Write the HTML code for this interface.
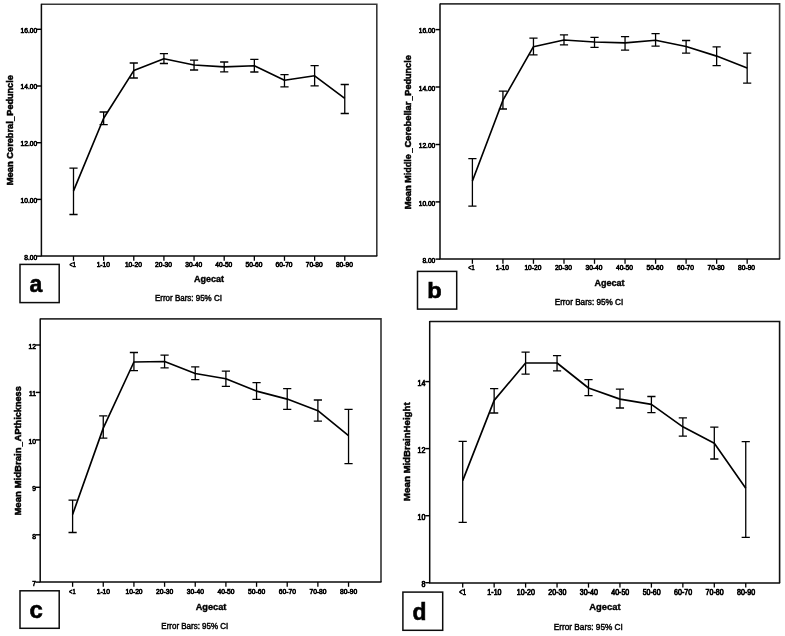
<!DOCTYPE html>
<html><head><meta charset="utf-8"><title>Figure</title>
<style>
html,body{margin:0;padding:0;background:#fff;}
body{width:785px;height:636px;overflow:hidden;}
svg{display:block;will-change:transform;font-family:"Liberation Sans",sans-serif;}
.tk{fill:#000;stroke:#000;stroke-width:0.7px;}
.b{font-weight:bold;fill:#000;stroke:#000;stroke-width:0.4px;}
.yl{font-weight:bold;fill:#000;stroke:#000;stroke-width:0.5px;}
.lt{font-weight:bold;fill:#000;stroke:#000;stroke-width:0.6px;}
.fn{fill:#000;stroke:#000;stroke-width:0.45px;}
</style></head><body>
<svg width="785" height="636" viewBox="0 0 785 636">
<rect x="0" y="0" width="785" height="636" fill="#ffffff"/>

<g>
<path d="M41.4 4.2H376.8V256.1" fill="none" stroke="#383838" stroke-width="1.6"/>
<path d="M41.4 3.7V256.1H377.3" fill="none" stroke="#0a0a0a" stroke-width="1.5"/>
<path d="M36.9 29.3H41.4" stroke="#000" stroke-width="1.45"/>
<text class="tk" transform="translate(37.1 32.71) scale(0.85 1)" font-size="7.8" text-anchor="end">16.00</text>
<path d="M36.9 86H41.4" stroke="#000" stroke-width="1.45"/>
<text class="tk" transform="translate(37.1 89.41) scale(0.85 1)" font-size="7.8" text-anchor="end">14.00</text>
<path d="M36.9 142.7H41.4" stroke="#000" stroke-width="1.45"/>
<text class="tk" transform="translate(37.1 146.11) scale(0.85 1)" font-size="7.8" text-anchor="end">12.00</text>
<path d="M36.9 199.4H41.4" stroke="#000" stroke-width="1.45"/>
<text class="tk" transform="translate(37.1 202.81) scale(0.85 1)" font-size="7.8" text-anchor="end">10.00</text>
<path d="M36.9 256.1H41.4" stroke="#000" stroke-width="1.45"/>
<text class="tk" transform="translate(37.1 259.51) scale(0.85 1)" font-size="7.8" text-anchor="end">8.00</text>
<path d="M73.5 256.1V260.8" stroke="#000" stroke-width="1.3"/>
<text class="tk" transform="translate(72.7 266.71) scale(0.714 1)" font-size="7.8" text-anchor="middle">&lt;1</text>
<path d="M103.64 256.1V260.8" stroke="#000" stroke-width="1.3"/>
<text class="tk" transform="translate(103.24 266.71) scale(0.85 1)" font-size="7.8" text-anchor="middle">1-10</text>
<path d="M133.78 256.1V260.8" stroke="#000" stroke-width="1.3"/>
<text class="tk" transform="translate(133.38 266.71) scale(0.85 1)" font-size="7.8" text-anchor="middle">10-20</text>
<path d="M163.92 256.1V260.8" stroke="#000" stroke-width="1.3"/>
<text class="tk" transform="translate(163.52 266.71) scale(0.85 1)" font-size="7.8" text-anchor="middle">20-30</text>
<path d="M194.06 256.1V260.8" stroke="#000" stroke-width="1.3"/>
<text class="tk" transform="translate(193.66 266.71) scale(0.85 1)" font-size="7.8" text-anchor="middle">30-40</text>
<path d="M224.2 256.1V260.8" stroke="#000" stroke-width="1.3"/>
<text class="tk" transform="translate(223.8 266.71) scale(0.85 1)" font-size="7.8" text-anchor="middle">40-50</text>
<path d="M254.34 256.1V260.8" stroke="#000" stroke-width="1.3"/>
<text class="tk" transform="translate(253.94 266.71) scale(0.85 1)" font-size="7.8" text-anchor="middle">50-60</text>
<path d="M284.48 256.1V260.8" stroke="#000" stroke-width="1.3"/>
<text class="tk" transform="translate(284.08 266.71) scale(0.85 1)" font-size="7.8" text-anchor="middle">60-70</text>
<path d="M314.62 256.1V260.8" stroke="#000" stroke-width="1.3"/>
<text class="tk" transform="translate(314.22 266.71) scale(0.85 1)" font-size="7.8" text-anchor="middle">70-80</text>
<path d="M344.76 256.1V260.8" stroke="#000" stroke-width="1.3"/>
<text class="tk" transform="translate(344.36 266.71) scale(0.85 1)" font-size="7.8" text-anchor="middle">80-90</text>
<path d="M73.5 168.2V214.5M69.4 168.2h8.2M69.4 214.5h8.2M103.64 112V124.6M99.54 112h8.2M99.54 124.6h8.2M133.78 63V78M129.68 63h8.2M129.68 78h8.2M163.92 53.6V63.5M159.82 53.6h8.2M159.82 63.5h8.2M194.06 60.2V70M189.96 60.2h8.2M189.96 70h8.2M224.2 62V71.9M220.1 62h8.2M220.1 71.9h8.2M254.34 59.4V72M250.24 59.4h8.2M250.24 72h8.2M284.48 74.7V86.9M280.38 74.7h8.2M280.38 86.9h8.2M314.62 65.7V85.8M310.52 65.7h8.2M310.52 85.8h8.2M344.76 84.5V113.5M340.66 84.5h8.2M340.66 113.5h8.2" fill="none" stroke="#000" stroke-width="1.3"/>
<polyline points="73.5,190.9 103.64,118.2 133.78,70.6 163.92,58.7 194.06,65 224.2,66.9 254.34,65.7 284.48,80.3 314.62,75.8 344.76,98.4" fill="none" stroke="#000" stroke-width="1.65" stroke-linejoin="round"/>
<text class="yl" transform="translate(13.2 185.26) rotate(-90) scale(1.0003 1)" font-size="9.4" text-anchor="start">Mean</text>
<text class="yl" transform="translate(13.2 158.67) rotate(-90) scale(0.9833 1)" font-size="9.4" text-anchor="start">Cerebral</text>
<text class="yl" transform="translate(14 121.02) rotate(-90) scale(0.8544 1)" font-size="9.4" text-anchor="start">_</text>
<text class="yl" transform="translate(13.2 115.65) rotate(-90) scale(0.9666 1)" font-size="9.4" text-anchor="start">Peduncle</text>
<text class="b" transform="translate(209 282.25) scale(0.95 1)" font-size="9.5" text-anchor="middle">Agecat</text>
<text class="fn" transform="translate(188.4 300.72) scale(0.95 1)" font-size="8.4" text-anchor="middle">Error Bars: 95% CI</text>
<rect x="20" y="264.4" width="39.2" height="38.2" fill="#fff" stroke="#0c0c0c" stroke-width="1.5"/>
<text class="lt" transform="translate(35.9 292.2) scale(0.95 1)" font-size="24.2" text-anchor="middle">a</text>
</g>
<g>
<path d="M440 3.9H779.6V259.1" fill="none" stroke="#383838" stroke-width="1.6"/>
<path d="M440 3.4V259.1H780.1" fill="none" stroke="#0a0a0a" stroke-width="1.5"/>
<path d="M435.5 29.6H440" stroke="#000" stroke-width="1.45"/>
<text class="tk" transform="translate(435.3 33.31) scale(0.85 1)" font-size="7.8" text-anchor="end">16.00</text>
<path d="M435.5 87H440" stroke="#000" stroke-width="1.45"/>
<text class="tk" transform="translate(435.3 90.71) scale(0.85 1)" font-size="7.8" text-anchor="end">14.00</text>
<path d="M435.5 144.5H440" stroke="#000" stroke-width="1.45"/>
<text class="tk" transform="translate(435.3 148.21) scale(0.85 1)" font-size="7.8" text-anchor="end">12.00</text>
<path d="M435.5 201.9H440" stroke="#000" stroke-width="1.45"/>
<text class="tk" transform="translate(435.3 205.61) scale(0.85 1)" font-size="7.8" text-anchor="end">10.00</text>
<path d="M435.5 259.1H440" stroke="#000" stroke-width="1.45"/>
<text class="tk" transform="translate(435.3 262.81) scale(0.85 1)" font-size="7.8" text-anchor="end">8.00</text>
<path d="M472.4 259.1V263.8" stroke="#000" stroke-width="1.3"/>
<text class="tk" transform="translate(471.4 270.21) scale(0.714 1)" font-size="7.8" text-anchor="middle">&lt;1</text>
<path d="M502.93 259.1V263.8" stroke="#000" stroke-width="1.3"/>
<text class="tk" transform="translate(502.33 270.21) scale(0.85 1)" font-size="7.8" text-anchor="middle">1-10</text>
<path d="M533.46 259.1V263.8" stroke="#000" stroke-width="1.3"/>
<text class="tk" transform="translate(532.86 270.21) scale(0.85 1)" font-size="7.8" text-anchor="middle">10-20</text>
<path d="M563.99 259.1V263.8" stroke="#000" stroke-width="1.3"/>
<text class="tk" transform="translate(563.39 270.21) scale(0.85 1)" font-size="7.8" text-anchor="middle">20-30</text>
<path d="M594.52 259.1V263.8" stroke="#000" stroke-width="1.3"/>
<text class="tk" transform="translate(593.92 270.21) scale(0.85 1)" font-size="7.8" text-anchor="middle">30-40</text>
<path d="M625.05 259.1V263.8" stroke="#000" stroke-width="1.3"/>
<text class="tk" transform="translate(624.45 270.21) scale(0.85 1)" font-size="7.8" text-anchor="middle">40-50</text>
<path d="M655.58 259.1V263.8" stroke="#000" stroke-width="1.3"/>
<text class="tk" transform="translate(654.98 270.21) scale(0.85 1)" font-size="7.8" text-anchor="middle">50-60</text>
<path d="M686.11 259.1V263.8" stroke="#000" stroke-width="1.3"/>
<text class="tk" transform="translate(685.51 270.21) scale(0.85 1)" font-size="7.8" text-anchor="middle">60-70</text>
<path d="M716.64 259.1V263.8" stroke="#000" stroke-width="1.3"/>
<text class="tk" transform="translate(716.04 270.21) scale(0.85 1)" font-size="7.8" text-anchor="middle">70-80</text>
<path d="M747.17 259.1V263.8" stroke="#000" stroke-width="1.3"/>
<text class="tk" transform="translate(746.57 270.21) scale(0.85 1)" font-size="7.8" text-anchor="middle">80-90</text>
<path d="M472.4 158.7V206.2M468.3 158.7h8.2M468.3 206.2h8.2M502.93 91.1V109M498.83 91.1h8.2M498.83 109h8.2M533.46 38.2V54.8M529.36 38.2h8.2M529.36 54.8h8.2M563.99 34.9V44.8M559.89 34.9h8.2M559.89 44.8h8.2M594.52 37.4V47.3M590.42 37.4h8.2M590.42 47.3h8.2M625.05 36.6V50.1M620.95 36.6h8.2M620.95 50.1h8.2M655.58 33.7V46.2M651.48 33.7h8.2M651.48 46.2h8.2M686.11 40.5V53.1M682.01 40.5h8.2M682.01 53.1h8.2M716.64 46.8V65.7M712.54 46.8h8.2M712.54 65.7h8.2M747.17 53.1V83.1M743.07 53.1h8.2M743.07 83.1h8.2" fill="none" stroke="#000" stroke-width="1.3"/>
<polyline points="472.4,181 502.93,100.2 533.46,46.7 563.99,40 594.52,42 625.05,42.9 655.58,40.2 686.11,46.5 716.64,56.1 747.17,68" fill="none" stroke="#000" stroke-width="1.65" stroke-linejoin="round"/>
<text class="yl" transform="translate(411.2 209.36) rotate(-90) scale(1.0003 1)" font-size="9.4" text-anchor="start">Mean</text>
<text class="yl" transform="translate(411.2 182.64) rotate(-90) scale(0.9572 1)" font-size="9.4" text-anchor="start">Middle</text>
<text class="yl" transform="translate(412 152.72) rotate(-90) scale(0.8715 1)" font-size="9.4" text-anchor="start">_</text>
<text class="yl" transform="translate(411.2 147.48) rotate(-90) scale(1.0018 1)" font-size="9.4" text-anchor="start">Cerebellar</text>
<text class="yl" transform="translate(412 100.42) rotate(-90) scale(0.8031 1)" font-size="9.4" text-anchor="start">_</text>
<text class="yl" transform="translate(411.2 95.65) rotate(-90) scale(0.9666 1)" font-size="9.4" text-anchor="start">Peduncle</text>
<text class="b" transform="translate(609.6 285.65) scale(0.95 1)" font-size="9.5" text-anchor="middle">Agecat</text>
<text class="fn" transform="translate(589 304.72) scale(0.975 1)" font-size="8.4" text-anchor="middle">Error Bars: 95% CI</text>
<rect x="417.5" y="271.4" width="39.2" height="37.7" fill="#fff" stroke="#0c0c0c" stroke-width="1.5"/>
<text class="lt" transform="translate(434.4 298.2) scale(1.1 1)" font-size="21.5" text-anchor="middle">b</text>
</g>
<g>
<path d="M40.2 318.9H381V582.1" fill="none" stroke="#333" stroke-width="1.6"/>
<path d="M40.2 318.4V582.1H381.5" fill="none" stroke="#0a0a0a" stroke-width="1.5"/>
<path d="M35.7 345H40.2" stroke="#000" stroke-width="1.45"/>
<text class="tk" transform="translate(35.9 348.94) scale(0.85 1)" font-size="7.9" text-anchor="end">12</text>
<path d="M35.7 392.4H40.2" stroke="#000" stroke-width="1.45"/>
<text class="tk" transform="translate(35.9 396.34) scale(0.85 1)" font-size="7.9" text-anchor="end">11</text>
<path d="M35.7 439.9H40.2" stroke="#000" stroke-width="1.45"/>
<text class="tk" transform="translate(35.9 443.84) scale(0.85 1)" font-size="7.9" text-anchor="end">10</text>
<path d="M35.7 487.3H40.2" stroke="#000" stroke-width="1.45"/>
<text class="tk" transform="translate(35.9 491.24) scale(0.85 1)" font-size="7.9" text-anchor="end">9</text>
<path d="M35.7 534.8H40.2" stroke="#000" stroke-width="1.45"/>
<text class="tk" transform="translate(35.9 538.74) scale(0.85 1)" font-size="7.9" text-anchor="end">8</text>
<path d="M35.7 582.1H40.2" stroke="#000" stroke-width="1.45"/>
<text class="tk" transform="translate(35.9 586.04) scale(0.85 1)" font-size="7.9" text-anchor="end">7</text>
<path d="M72.6 582.1V586.8" stroke="#000" stroke-width="1.3"/>
<text class="tk" transform="translate(72.3 594.04) scale(0.714 1)" font-size="7.9" text-anchor="middle">&lt;1</text>
<path d="M103.26 582.1V586.8" stroke="#000" stroke-width="1.3"/>
<text class="tk" transform="translate(103.36 594.04) scale(0.85 1)" font-size="7.9" text-anchor="middle">1-10</text>
<path d="M133.92 582.1V586.8" stroke="#000" stroke-width="1.3"/>
<text class="tk" transform="translate(134.02 594.04) scale(0.85 1)" font-size="7.9" text-anchor="middle">10-20</text>
<path d="M164.58 582.1V586.8" stroke="#000" stroke-width="1.3"/>
<text class="tk" transform="translate(164.68 594.04) scale(0.85 1)" font-size="7.9" text-anchor="middle">20-30</text>
<path d="M195.24 582.1V586.8" stroke="#000" stroke-width="1.3"/>
<text class="tk" transform="translate(195.34 594.04) scale(0.85 1)" font-size="7.9" text-anchor="middle">30-40</text>
<path d="M225.9 582.1V586.8" stroke="#000" stroke-width="1.3"/>
<text class="tk" transform="translate(226 594.04) scale(0.85 1)" font-size="7.9" text-anchor="middle">40-50</text>
<path d="M256.56 582.1V586.8" stroke="#000" stroke-width="1.3"/>
<text class="tk" transform="translate(256.66 594.04) scale(0.85 1)" font-size="7.9" text-anchor="middle">50-60</text>
<path d="M287.22 582.1V586.8" stroke="#000" stroke-width="1.3"/>
<text class="tk" transform="translate(287.32 594.04) scale(0.85 1)" font-size="7.9" text-anchor="middle">60-70</text>
<path d="M317.88 582.1V586.8" stroke="#000" stroke-width="1.3"/>
<text class="tk" transform="translate(317.98 594.04) scale(0.85 1)" font-size="7.9" text-anchor="middle">70-80</text>
<path d="M348.54 582.1V586.8" stroke="#000" stroke-width="1.3"/>
<text class="tk" transform="translate(348.64 594.04) scale(0.85 1)" font-size="7.9" text-anchor="middle">80-90</text>
<path d="M72.6 500.1V532.5M68.5 500.1h8.2M68.5 532.5h8.2M103.26 415.8V438.1M99.16 415.8h8.2M99.16 438.1h8.2M133.92 352.5V370.6M129.82 352.5h8.2M129.82 370.6h8.2M164.58 355.2V367.8M160.48 355.2h8.2M160.48 367.8h8.2M195.24 366.8V379.7M191.14 366.8h8.2M191.14 379.7h8.2M225.9 371.1V386.4M221.8 371.1h8.2M221.8 386.4h8.2M256.56 382.7V399.4M252.46 382.7h8.2M252.46 399.4h8.2M287.22 388.7V409.3M283.12 388.7h8.2M283.12 409.3h8.2M317.88 400V421.2M313.78 400h8.2M313.78 421.2h8.2M348.54 409.3V463.6M344.44 409.3h8.2M344.44 463.6h8.2" fill="none" stroke="#000" stroke-width="1.3"/>
<polyline points="72.6,514.5 103.26,428.1 133.92,362 164.58,361.5 195.24,373.5 225.9,378.8 256.56,391.1 287.22,399.1 317.88,410.7 348.54,435.6" fill="none" stroke="#000" stroke-width="1.65" stroke-linejoin="round"/>
<text class="yl" transform="translate(21.3 515.57) rotate(-90) scale(1.0132 1)" font-size="9.4" text-anchor="start">Mean</text>
<text class="yl" transform="translate(21.3 488.58) rotate(-90) scale(1.0285 1)" font-size="9.4" text-anchor="start">MidBrain</text>
<text class="yl" transform="translate(22.1 446.42) rotate(-90) scale(0.8544 1)" font-size="9.4" text-anchor="start">_</text>
<text class="yl" transform="translate(21.3 441.18) rotate(-90) scale(0.9752 1)" font-size="9.4" text-anchor="start">APthickness</text>
<text class="b" transform="translate(211 609.61) scale(0.95 1)" font-size="9.7" text-anchor="middle">Agecat</text>
<text class="fn" transform="translate(194.8 629.16) scale(0.94 1)" font-size="8.5" text-anchor="middle">Error Bars: 95% CI</text>
<rect x="20" y="590.8" width="39.2" height="37.5" fill="#fff" stroke="#0c0c0c" stroke-width="1.5"/>
<text class="lt" transform="translate(36.2 618) scale(1.0 1)" font-size="24" text-anchor="middle">c</text>
</g>
<g>
<path d="M429.7 321.5H779.6V582.9" fill="none" stroke="#111" stroke-width="1.6"/>
<path d="M429.7 321V582.9H780.1" fill="none" stroke="#0a0a0a" stroke-width="1.5"/>
<path d="M425.2 381.6H429.7" stroke="#000" stroke-width="1.45"/>
<text class="tk" transform="translate(425.4 385.55) scale(0.865 1)" font-size="8.2" text-anchor="end">14</text>
<path d="M425.2 448.6H429.7" stroke="#000" stroke-width="1.45"/>
<text class="tk" transform="translate(425.4 452.55) scale(0.865 1)" font-size="8.2" text-anchor="end">12</text>
<path d="M425.2 515.7H429.7" stroke="#000" stroke-width="1.45"/>
<text class="tk" transform="translate(425.4 519.65) scale(0.865 1)" font-size="8.2" text-anchor="end">10</text>
<path d="M425.2 582.7H429.7" stroke="#000" stroke-width="1.45"/>
<text class="tk" transform="translate(425.4 586.65) scale(0.865 1)" font-size="8.2" text-anchor="end">8</text>
<path d="M462.7 582.9V587.6" stroke="#000" stroke-width="1.3"/>
<text class="tk" transform="translate(462.6 594.65) scale(0.7265999999999999 1)" font-size="8.2" text-anchor="middle">&lt;1</text>
<path d="M494.15 582.9V587.6" stroke="#000" stroke-width="1.3"/>
<text class="tk" transform="translate(494.45 594.65) scale(0.865 1)" font-size="8.2" text-anchor="middle">1-10</text>
<path d="M525.6 582.9V587.6" stroke="#000" stroke-width="1.3"/>
<text class="tk" transform="translate(525.9 594.65) scale(0.865 1)" font-size="8.2" text-anchor="middle">10-20</text>
<path d="M557.05 582.9V587.6" stroke="#000" stroke-width="1.3"/>
<text class="tk" transform="translate(557.35 594.65) scale(0.865 1)" font-size="8.2" text-anchor="middle">20-30</text>
<path d="M588.5 582.9V587.6" stroke="#000" stroke-width="1.3"/>
<text class="tk" transform="translate(588.8 594.65) scale(0.865 1)" font-size="8.2" text-anchor="middle">30-40</text>
<path d="M619.95 582.9V587.6" stroke="#000" stroke-width="1.3"/>
<text class="tk" transform="translate(620.25 594.65) scale(0.865 1)" font-size="8.2" text-anchor="middle">40-50</text>
<path d="M651.4 582.9V587.6" stroke="#000" stroke-width="1.3"/>
<text class="tk" transform="translate(651.7 594.65) scale(0.865 1)" font-size="8.2" text-anchor="middle">50-60</text>
<path d="M682.85 582.9V587.6" stroke="#000" stroke-width="1.3"/>
<text class="tk" transform="translate(683.15 594.65) scale(0.865 1)" font-size="8.2" text-anchor="middle">60-70</text>
<path d="M714.3 582.9V587.6" stroke="#000" stroke-width="1.3"/>
<text class="tk" transform="translate(714.6 594.65) scale(0.865 1)" font-size="8.2" text-anchor="middle">70-80</text>
<path d="M745.75 582.9V587.6" stroke="#000" stroke-width="1.3"/>
<text class="tk" transform="translate(746.05 594.65) scale(0.865 1)" font-size="8.2" text-anchor="middle">80-90</text>
<path d="M462.7 441.3V522.4M458.6 441.3h8.2M458.6 522.4h8.2M494.15 388.7V413M490.05 388.7h8.2M490.05 413h8.2M525.6 352.2V374.1M521.5 352.2h8.2M521.5 374.1h8.2M557.05 355.7V370.8M552.95 355.7h8.2M552.95 370.8h8.2M588.5 379.7V395.6M584.4 379.7h8.2M584.4 395.6h8.2M619.95 389.2V408M615.85 389.2h8.2M615.85 408h8.2M651.4 396.5V412.6M647.3 396.5h8.2M647.3 412.6h8.2M682.85 417.9V436.1M678.75 417.9h8.2M678.75 436.1h8.2M714.3 427.2V459M710.2 427.2h8.2M710.2 459h8.2M745.75 441.7V537.4M741.65 441.7h8.2M741.65 537.4h8.2" fill="none" stroke="#000" stroke-width="1.3"/>
<polyline points="462.7,480.6 494.15,400.4 525.6,363 557.05,363 588.5,388 619.95,399.1 651.4,404.4 682.85,426.8 714.3,443.3 745.75,488.2" fill="none" stroke="#000" stroke-width="1.65" stroke-linejoin="round"/>
<text class="yl" transform="translate(410.1 501.19) rotate(-90) scale(1.0199 1)" font-size="9.7" text-anchor="start">Mean</text>
<text class="yl" transform="translate(410.1 473.58) rotate(-90) scale(0.995 1)" font-size="9.7" text-anchor="start">MidBrainHeight</text>
<text class="b" transform="translate(605 609.67) scale(0.95 1)" font-size="9.9" text-anchor="middle">Agecat</text>
<text class="fn" transform="translate(588.3 629.7) scale(0.96 1)" font-size="8.6" text-anchor="middle">Error Bars: 95% CI</text>
<rect x="402.9" y="592.1" width="39.8" height="38.2" fill="#fff" stroke="#0c0c0c" stroke-width="1.5"/>
<text class="lt" transform="translate(419.6 619.6) scale(0.94 1)" font-size="24.3" text-anchor="middle">d</text>
</g>
</svg></body></html>
